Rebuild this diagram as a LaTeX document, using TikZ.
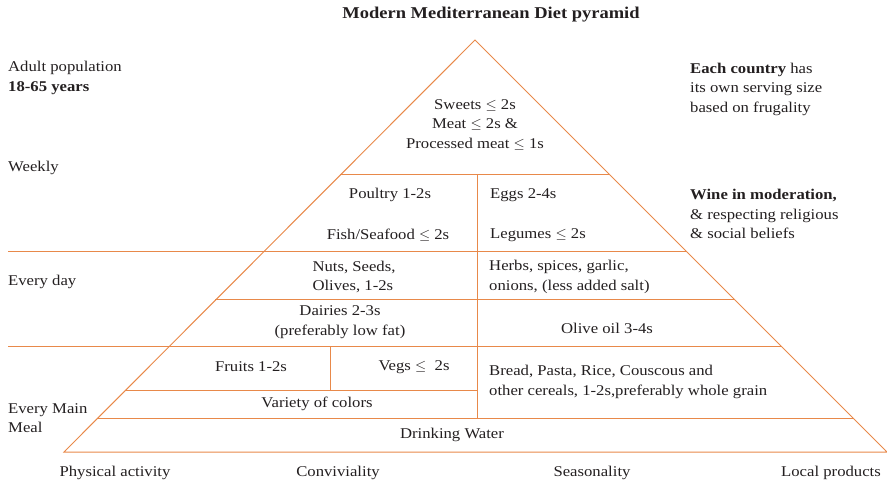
\documentclass[tikz,border=0pt]{standalone}
\usepackage{amsmath}
\usepackage{fontspec}
\setmainfont[FakeStretch=1.12]{Liberation Serif}
\usepackage{tikz}

\definecolor{pyrorange}{HTML}{E8894A}
\definecolor{pyrtext}{HTML}{231F20}

\begin{document}
\begin{tikzpicture}[x=1pt,y=-1pt,
	band/.style={draw=pyrorange,line width=1pt},
	lbl/.style={text=pyrtext,font=\fontsize{14.9}{19.5}\selectfont,inner sep=0pt,align=center},
	side/.style={lbl,anchor=west,align=left}]

		\useasboundingbox (0,0) rectangle (887,489);

		\coordinate (top) at (475, 40);
		\coordinate (bl)  at (64, 452);
		\coordinate (br)  at (887, 452);

		\draw[band] (bl) -- (top) -- (br) -- cycle;

		\draw[band] (340, 175) -- (610, 175);
		\draw[band] (8, 252)   -- (687, 252);
		\draw[band] (215, 300) -- (735, 300);
		\draw[band] (8, 347)   -- (782, 347);
		\draw[band] (125, 390) -- (477, 390);
		\draw[band] (97, 418)  -- (853, 418);
		\draw[band] (477, 175) -- (477, 418);
		\draw[band] (330, 347) -- (330, 390);

		\node[lbl,font=\fontsize{16.5}{18}\selectfont\bfseries] (title) at (491, 15) {Modern Mediterranean Diet pyramid};

		\node[side] (adult)   at (8, 78)   {Adult population\\\textbf{18-65 years}};
		\node[side] (weekly)  at (8, 168)  {Weekly};
		\node[side] (everyday) at (8, 282) {Every day};
		\node[side] (mainmeal) at (8, 418) {Every Main\\Meal};

		\node[side] (country) at (690, 89)  {\textbf{Each country} has\\its own serving size\\based on frugality};
		\node[side] (wine)    at (690, 214) {\textbf{Wine in moderation,}\\\& respecting religious\\\& social beliefs};

		\node[lbl] (sweets)  at (475, 125) {Sweets $\leq$ 2s\\Meat $\leq$ 2s \&\\Processed meat $\leq$ 1s};
		\node[lbl] (poultry) at (390, 195) {Poultry 1-2s};
		\node[lbl] (fish)    at (388, 235) {Fish/Seafood $\leq$ 2s};
		\node[side] (eggs)    at (490, 195) {Eggs 2-4s};
		\node[side] (legumes) at (490, 235) {Legumes $\leq$ 2s};
		\node[lbl,align=left] (nuts) at (354, 277) {Nuts, Seeds,\\Olives, 1-2s};
		\node[side] (herbs)   at (489, 277) {Herbs, spices, garlic,\\onions, (less added salt)};
		\node[lbl] (dairies)  at (340, 322) {Dairies 2-3s\\(preferably low fat)};
		\node[lbl] (oil)      at (607, 328) {Olive oil 3-4s};
		\node[lbl] (fruits)   at (251, 367) {Fruits 1-2s};
		\node[lbl] (vegs)     at (414, 367) {Vegs $\leq$ \ 2s};
		\node[side] (bread)   at (489, 382) {Bread, Pasta, Rice, Couscous and\\other cereals, 1-2s,preferably whole grain};
		\node[lbl] (colors)   at (317, 404) {Variety of colors};
		\node[lbl] (water)    at (452, 435) {Drinking Water};

		\node[lbl] (activity)    at (115, 473) {Physical activity};
		\node[lbl] (conviviality) at (338, 473) {Conviviality};
		\node[lbl] (seasonality) at (592, 473) {Seasonality};
		\node[lbl] (local)       at (831, 473) {Local products};

\end{tikzpicture}
\end{document}
